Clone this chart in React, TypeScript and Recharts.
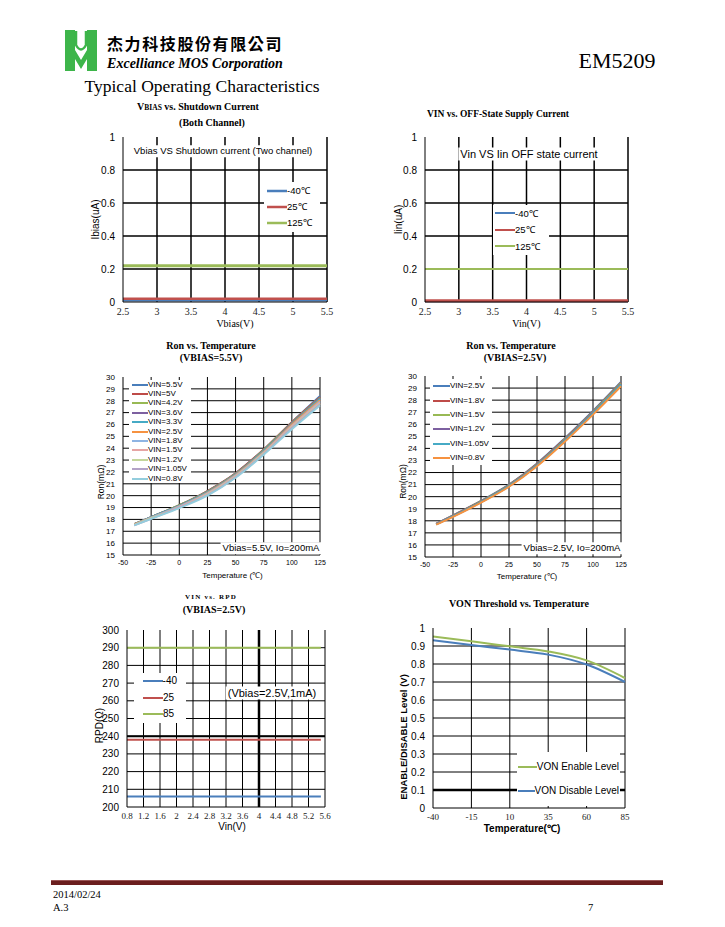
import React from 'react';
import { LineChart, Line, XAxis, YAxis, CartesianGrid, Legend, ReferenceLine } from 'recharts';

const SANS = '"Liberation Sans", Arial, sans-serif';
const SERIF = '"Liberation Serif", "Times New Roman", serif';

// ---------- Chart 1: Vbias vs Shutdown current ----------
const shutdownVbias = [2.5, 3, 3.5, 4, 4.5, 5, 5.5];
const shutdownM40 = [0.01, 0.01, 0.01, 0.01, 0.01, 0.01, 0.01];
const shutdown25 = [0.02, 0.02, 0.02, 0.02, 0.02, 0.02, 0.02];
const shutdown125 = [0.22, 0.22, 0.22, 0.22, 0.22, 0.22, 0.22];
const shutdownXTicks = [2.5, 3, 3.5, 4, 4.5, 5, 5.5];
const currentYTicks = [0, 0.2, 0.4, 0.6, 0.8, 1];

// ---------- Chart 2: Vin vs OFF-state supply current ----------
const offVin = [2.5, 3, 3.5, 4, 4.5, 5, 5.5];
const offM40 = [0.005, 0.005, 0.005, 0.005, 0.005, 0.005, 0.005];
const off25 = [0.008, 0.008, 0.008, 0.008, 0.008, 0.008, 0.008];
const off125 = [0.2, 0.2, 0.2, 0.2, 0.2, 0.2, 0.2];
const offXTicks = [2.5, 3, 3.5, 4, 4.5, 5, 5.5];

// ---------- Chart 3: Ron vs Temperature (VBIAS=5.5V) ----------
const ron55Temps = [-40, -25, 0, 25, 50, 75, 100, 125];
const ron55Names = ['VIN=5.5V', 'VIN=5V', 'VIN=4.2V', 'VIN=3.6V', 'VIN=3.3V', 'VIN=2.5V', 'VIN=1.8V', 'VIN=1.5V', 'VIN=1.2V', 'VIN=1.05V', 'VIN=0.8V'];
const ron55Vin55 = [17.6, 18.2, 19.2, 20.4, 21.9, 23.9, 26.2, 28.4];
const ron55Vin50 = [17.6, 18.2, 19.2, 20.4, 21.9, 23.9, 26.2, 28.3];
const ron55Vin42 = [17.6, 18.2, 19.2, 20.35, 21.85, 23.85, 26.15, 28.25];
const ron55Vin36 = [17.6, 18.2, 19.15, 20.3, 21.8, 23.8, 26.1, 28.2];
const ron55Vin33 = [17.6, 18.2, 19.15, 20.3, 21.8, 23.8, 26.05, 28.15];
const ron55Vin25 = [17.6, 18.15, 19.1, 20.25, 21.75, 23.7, 26.0, 28.05];
const ron55Vin18 = [17.55, 18.15, 19.1, 20.2, 21.7, 23.65, 25.9, 27.95];
const ron55Vin15 = [17.55, 18.1, 19.05, 20.15, 21.65, 23.6, 25.85, 27.85];
const ron55Vin12 = [17.55, 18.1, 19.0, 20.1, 21.6, 23.55, 25.75, 27.75];
const ron55Vin105 = [17.5, 18.05, 19.0, 20.05, 21.55, 23.5, 25.7, 27.7];
const ron55Vin08 = [17.5, 18.05, 18.95, 20.0, 21.5, 23.45, 25.6, 27.6];
const ron55Series = [ron55Vin55, ron55Vin50, ron55Vin42, ron55Vin36, ron55Vin33, ron55Vin25, ron55Vin18, ron55Vin15, ron55Vin12, ron55Vin105, ron55Vin08];
const ron55Colors = ['#4A7EBB', '#BE4B48', '#98B954', '#7D60A0', '#46AAC5', '#F69240', '#8EB4E3', '#E6A5A4', '#C3D69B', '#B3A2C7', '#93CDDD'];

// ---------- Chart 4: Ron vs Temperature (VBIAS=2.5V) ----------
const ron25Temps = [-40, -25, 0, 25, 50, 75, 100, 125];
const ron25Names = ['VIN=2.5V', 'VIN=1.8V', 'VIN=1.5V', 'VIN=1.2V', 'VIN=1.05V', 'VIN=0.8V'];
const ron25Vin25 = [17.75, 18.45, 19.65, 21.0, 22.75, 24.85, 27.1, 29.5];
const ron25Vin18 = [17.75, 18.43, 19.62, 20.97, 22.7, 24.8, 27.05, 29.45];
const ron25Vin15 = [17.73, 18.4, 19.6, 20.94, 22.66, 24.75, 27.0, 29.4];
const ron25Vin12 = [17.72, 18.38, 19.57, 20.9, 22.62, 24.7, 26.95, 29.33];
const ron25Vin105 = [17.7, 18.36, 19.55, 20.87, 22.58, 24.65, 26.9, 29.27];
const ron25Vin08 = [17.68, 18.33, 19.5, 20.82, 22.52, 24.57, 26.8, 29.15];
const ron25Series = [ron25Vin25, ron25Vin18, ron25Vin15, ron25Vin12, ron25Vin105, ron25Vin08];
const ron25Colors = ['#4A7EBB', '#BE4B48', '#98B954', '#7D60A0', '#46AAC5', '#F69240'];

const ronYTicks = [15, 16, 17, 18, 19, 20, 21, 22, 23, 24, 25, 26, 27, 28, 29, 30];
const ronXTicks = [-50, -25, 0, 25, 50, 75, 100, 125];

// ---------- Chart 5: VIN vs RPD ----------
const rpdVin = [0.8, 1.2, 1.6, 2, 2.4, 2.8, 3.2, 3.6, 4, 4.4, 4.8, 5.2, 5.5];
const rpdM40 = [206, 206, 206, 206, 206, 206, 206, 206, 206, 206, 206, 206, 206];
const rpd25 = [238, 238, 238, 238, 238, 238, 238, 238, 238, 238, 238, 238, 238];
const rpd85 = [290, 290, 290, 290, 290, 290, 290, 290, 290, 290, 290, 290, 290];
const rpdXTicks = [0.8, 1.2, 1.6, 2, 2.4, 2.8, 3.2, 3.6, 4, 4.4, 4.8, 5.2, 5.6];
const rpdYTicks = [200, 210, 220, 230, 240, 250, 260, 270, 280, 290, 300];

// ---------- Chart 6: VON threshold vs Temperature ----------
const vonTemps = [-40, -15, 10, 35, 60, 85];
const vonEnable = [0.953, 0.926, 0.898, 0.87, 0.82, 0.722];
const vonDisable = [0.932, 0.905, 0.88, 0.852, 0.797, 0.7];
const vonXTicks = [-40, -15, 10, 35, 60, 85];
const vonYTicks = [0, 0.1, 0.2, 0.3, 0.4, 0.5, 0.6, 0.7, 0.8, 0.9, 1];

// ---------- tables ----------
const key = (k: number) => 's' + String(k).padStart(2, '0');
const shutdownData = shutdownVbias.map((x, i) => ({ x, a: shutdownM40[i], b: shutdown25[i], c: shutdown125[i] }));
const offData = offVin.map((x, i) => ({ x, a: offM40[i], b: off25[i], c: off125[i] }));
const ron55Data = ron55Temps.map((x, i) => {
  const row: any = { x };
  ron55Series.forEach((s, k) => { row[key(k)] = s[i]; });
  return row;
});
const ron25Data = ron25Temps.map((x, i) => {
  const row: any = { x };
  ron25Series.forEach((s, k) => { row[key(k)] = s[i]; });
  return row;
});
const rpdData = rpdVin.map((x, i) => ({ x, a: rpdM40[i], b: rpd25[i], c: rpd85[i] }));
const vonData = vonTemps.map((x, i) => ({ x, a: vonEnable[i], b: vonDisable[i] }));

type LegOpts = { rowH: number; lineLen: number; lineW: number; fontSize: number; padX: number; padY: number; width: number };

const legendContent = (o: LegOpts) => (props: any) => {
  const items = props.payload || [];
  return (
    <div style={{ background: '#fff', padding: `${o.padY}px ${o.padX}px`, width: o.width, boxSizing: 'border-box', fontFamily: SANS, fontSize: o.fontSize, color: '#000', lineHeight: 1 }}>
      {items.map((it: any) => (
        <div key={it.value} style={{ display: 'flex', alignItems: 'center', height: o.rowH, whiteSpace: 'nowrap' }}>
          <svg width={o.lineLen} height={6} style={{ display: 'block' }}>
            <line x1={0} x2={o.lineLen} y1={3} y2={3} stroke={it.color} strokeWidth={o.lineW} />
          </svg>
          <span>{it.value}</span>
        </div>
      ))}
    </div>
  );
};

const Txt = ({ x, y, size, children, family = SERIF, weight = 400, style = {} }: any) => (
  <div style={{ position: 'absolute', left: x, top: y, transform: 'translate(-50%, -50%)', whiteSpace: 'nowrap', fontFamily: family, fontSize: size, fontWeight: weight, color: '#000', lineHeight: 1, ...style }}>
    {children}
  </div>
);

const Note = ({ x, y, size, children }: any) => (
  <div style={{ position: 'absolute', left: x, top: y, transform: 'translate(-50%, -50%)', whiteSpace: 'nowrap', fontFamily: SANS, fontSize: size, color: '#000', background: '#fff', padding: '1px 2px', lineHeight: 1 }}>
    {children}
  </div>
);

const yTick = (size: number) => ({ fill: '#000', fontSize: size, fontFamily: SANS });
const xTickSerif = (size: number) => ({ fill: '#222', fontSize: size, fontFamily: SERIF });
const axisLbl = (value: string, dx: number, dy: number, size: number, family: string, rotate: boolean, weight = 400) => ({
  value,
  position: 'center' as const,
  angle: rotate ? -90 : 0,
  dx,
  dy,
  fontSize: size,
  fontFamily: family,
  fontWeight: weight,
  fill: '#000',
});

export default function App() {
  const margin = { top: 5, right: 12, bottom: 0, left: 0 };
  return (
    <div style={{ position: 'absolute', left: 0, top: 0, width: 725, height: 927, background: '#fff', overflow: 'hidden' }}>
      {/* Header */}
      <svg style={{ position: 'absolute', left: 60, top: 28 }} width={44} height={46}>
        <rect x={5} y={2} width={10} height={41} fill="#3DB54A" />
        <rect x={27} y={2} width={10} height={41} fill="#3DB54A" />
        <path d="M16,3 L16,17 Q21,26 26,17 L26,3" fill="none" stroke="#3DB54A" strokeWidth={2.5} />
        <polygon points="15,22 21,32 27,22 27,31 21,41 15,31" fill="#3DB54A" />
      </svg>
      <Txt x={195} y={43} size={16} family='"Noto Sans CJK TC", sans-serif' weight={700} style={{ letterSpacing: 1.6 }}>杰力科技股份有限公司</Txt>
      <Txt x={195} y={64} size={14} weight={700} style={{ fontStyle: 'italic' }}>Excelliance MOS Corporation</Txt>
      <Txt x={617} y={61} size={22}>EM5209</Txt>
      <Txt x={202} y={87} size={17.5}>Typical Operating Characteristics</Txt>

      {/* Chart titles */}
      <Txt x={198} y={107} size={10} weight={700}>V<span style={{ fontSize: 7.5 }}>BIAS</span> vs. Shutdown Current</Txt>
      <Txt x={212} y={123} size={10} weight={700}>(Both Channel)</Txt>
      <Txt x={498} y={115} size={9.5} weight={700}>VIN vs. OFF-State Supply Current</Txt>
      <Txt x={211} y={346} size={10} weight={700}>Ron vs. Temperature</Txt>
      <Txt x={211} y={358} size={10} weight={700}>(VBIAS=5.5V)</Txt>
      <Txt x={511} y={346} size={10} weight={700}>Ron vs. Temperature</Txt>
      <Txt x={515} y={358} size={10} weight={700}>(VBIAS=2.5V)</Txt>
      <Txt x={211} y={597} size={7} weight={700} style={{ letterSpacing: 1.2 }}>VIN vs. RPD</Txt>
      <Txt x={214} y={610} size={10} weight={700}>(VBIAS=2.5V)</Txt>
      <Txt x={519} y={604} size={10} weight={700}>VON Threshold vs. Temperature</Txt>

      {/* Chart 1 */}
      <div style={{ position: 'absolute', left: 83, top: 132 }}>
        <LineChart width={256} height={202} data={shutdownData} margin={margin}>
          <CartesianGrid stroke="#000" strokeWidth={1.5} horizontalValues={[0.2, 0.4, 0.6, 0.8]} verticalValues={[3, 3.5, 4, 4.5, 5, 5.5]} />
          <XAxis type="number" dataKey="x" domain={[2.5, 5.5]} ticks={shutdownXTicks} interval={0} height={32} tickLine={false} tickSize={4} axisLine={{ stroke: '#000' }} tick={xTickSerif(10)} label={axisLbl('Vbias(V)', 10, 5, 10, SERIF, false)} />
          <YAxis type="number" domain={[0, 1]} ticks={currentYTicks} interval={0} width={40} tickLine={false} axisLine={{ stroke: '#000' }} tick={yTick(10)} label={axisLbl('Ibias(uA)', -8, 0, 10, SANS, true)} />
          <Legend layout="vertical" align="center" verticalAlign="middle" itemSorter="dataKey" wrapperStyle={{ left: 181, top: 50, width: 56, height: 'auto' }} content={legendContent({ rowH: 16, lineLen: 20, lineW: 2.5, fontSize: 9.5, padX: 3, padY: 1, width: 56 })} />
          <Line dataKey="a" name="-40℃" stroke="#4A7EBB" strokeWidth={2.5} dot={false} isAnimationActive={false} />
          <Line dataKey="b" name="25℃" stroke="#C0504D" strokeWidth={2.5} dot={false} isAnimationActive={false} />
          <Line dataKey="c" name="125℃" stroke="#9BBB59" strokeWidth={3} dot={false} isAnimationActive={false} />
        </LineChart>
      </div>
      <Note x={223} y={151} size={9.5}>Vbias VS Shutdown current (Two channel)</Note>

      {/* Chart 2 */}
      <div style={{ position: 'absolute', left: 385, top: 132 }}>
        <LineChart width={255} height={202} data={offData} margin={margin}>
          <CartesianGrid stroke="#000" strokeWidth={1.5} horizontalValues={[0.2, 0.4, 0.6, 0.8]} verticalValues={[3, 3.5, 4, 4.5, 5, 5.5]} />
          <XAxis type="number" dataKey="x" domain={[2.5, 5.5]} ticks={offXTicks} interval={0} height={32} tickLine={false} tickSize={4} axisLine={{ stroke: '#000' }} tick={xTickSerif(10)} label={axisLbl('Vin(V)', 0, 5, 10, SERIF, false)} />
          <YAxis type="number" domain={[0, 1]} ticks={currentYTicks} interval={0} width={40} tickLine={false} axisLine={{ stroke: '#000' }} tick={yTick(10)} label={axisLbl('Iin(uA)', -7, 0, 10, SANS, true)} />
          <Legend layout="vertical" align="center" verticalAlign="middle" itemSorter="dataKey" wrapperStyle={{ left: 108, top: 73, width: 56, height: 'auto' }} content={legendContent({ rowH: 16.5, lineLen: 20, lineW: 2, fontSize: 9.5, padX: 2, padY: 0, width: 56 })} />
          <Line dataKey="a" name="-40℃" stroke="#4A7EBB" strokeWidth={2} dot={false} isAnimationActive={false} />
          <Line dataKey="b" name="25℃" stroke="#C0504D" strokeWidth={3} dot={false} isAnimationActive={false} />
          <Line dataKey="c" name="125℃" stroke="#9BBB59" strokeWidth={2} dot={false} isAnimationActive={false} />
        </LineChart>
      </div>
      <Note x={529} y={154} size={11}>Vin VS Iin OFF state current</Note>

      {/* Chart 3 */}
      <div style={{ position: 'absolute', left: 88, top: 372 }}>
        <LineChart width={244} height={211} data={ron55Data} margin={margin}>
          <CartesianGrid stroke="#000" strokeWidth={1} horizontalValues={ronYTicks.slice(1, -1)} verticalValues={ronXTicks.slice(1)} />
          <XAxis type="number" dataKey="x" domain={[-50, 125]} ticks={ronXTicks} interval={0} height={28} tickLine={false} tickSize={3} axisLine={{ stroke: '#000' }} tick={yTick(7)} label={axisLbl('Temperature (℃)', 11, 6, 8, SANS, false)} />
          <YAxis type="number" domain={[15, 30]} ticks={ronYTicks} interval={0} width={35} tickLine={false} axisLine={{ stroke: '#000' }} tick={yTick(8)} label={axisLbl('Ron(mΩ)', -4.5, 16, 8.5, SANS, true)} />
          <Legend layout="vertical" align="center" verticalAlign="middle" itemSorter="dataKey" wrapperStyle={{ left: 41, top: 8, width: 62, height: 'auto' }} content={legendContent({ rowH: 9.4, lineLen: 16, lineW: 2, fontSize: 8, padX: 3, padY: 0, width: 62 })} />
          {ron55Names.map((n, k) => (
            <Line key={n} type="monotone" dataKey={key(k)} name={n} stroke={ron55Colors[k]} strokeWidth={1.8} dot={false} isAnimationActive={false} />
          ))}
        </LineChart>
      </div>
      <Note x={271} y={548} size={9.5}>Vbias=5.5V, Io=200mA</Note>

      {/* Chart 4 */}
      <div style={{ position: 'absolute', left: 390, top: 371 }}>
        <LineChart width={243} height={214} data={ron25Data} margin={margin}>
          <CartesianGrid stroke="#000" strokeWidth={1} horizontalValues={ronYTicks.slice(1, -1)} verticalValues={ronXTicks.slice(1)} />
          <XAxis type="number" dataKey="x" domain={[-50, 125]} ticks={ronXTicks} interval={0} height={28} tickLine={false} tickSize={3} axisLine={{ stroke: '#000' }} tick={yTick(7)} label={axisLbl('Temperature (℃)', 4, 5, 8, SANS, false)} />
          <YAxis type="number" domain={[15, 30]} ticks={ronYTicks} interval={0} width={35} tickLine={false} axisLine={{ stroke: '#000' }} tick={yTick(8)} label={axisLbl('Ron(mΩ)', -5, 15, 8.5, SANS, true)} />
          <Legend layout="vertical" align="center" verticalAlign="middle" itemSorter="dataKey" wrapperStyle={{ left: 40, top: 8, width: 62, height: 'auto' }} content={legendContent({ rowH: 14.4, lineLen: 17, lineW: 2, fontSize: 8, padX: 3, padY: 0, width: 62 })} />
          {ron25Names.map((n, k) => (
            <Line key={n} type="monotone" dataKey={key(k)} name={n} stroke={ron25Colors[k]} strokeWidth={2} dot={false} isAnimationActive={false} />
          ))}
        </LineChart>
      </div>
      <Note x={572} y={548} size={9.5}>Vbias=2.5V, Io=200mA</Note>

      {/* Chart 5 */}
      <div style={{ position: 'absolute', left: 87, top: 625 }}>
        <LineChart width={250} height={212} data={rpdData} margin={margin}>
          <CartesianGrid stroke="#000" strokeWidth={1} horizontalValues={rpdYTicks.slice(1, -1)} verticalValues={rpdXTicks.slice(1)} />
          <ReferenceLine x={4} stroke="#000" strokeWidth={2.5} />
          <ReferenceLine y={240} stroke="#000" strokeWidth={2} />
          <XAxis type="number" dataKey="x" domain={[0.8, 5.6]} ticks={rpdXTicks} interval={0} height={30} tickLine={false} tickSize={4} axisLine={{ stroke: '#000' }} tick={xTickSerif(9)} label={axisLbl('Vin(V)', 6, 4, 10, SANS, false)} />
          <YAxis type="number" domain={[200, 300]} ticks={rpdYTicks} interval={0} width={40} tickLine={false} axisLine={{ stroke: '#000' }} tick={yTick(10)} label={axisLbl('RPD(Ω)', -8, 7, 10, SANS, true)} />
          <Legend layout="vertical" align="center" verticalAlign="middle" itemSorter="dataKey" wrapperStyle={{ left: 47, top: 48, width: 52, height: 'auto' }} content={legendContent({ rowH: 16.5, lineLen: 20, lineW: 2, fontSize: 10, padX: 9, padY: 0, width: 52 })} />
          <Line dataKey="a" name="-40" stroke="#4A7EBB" strokeWidth={2} dot={false} isAnimationActive={false} />
          <Line dataKey="b" name="25" stroke="#C0504D" strokeWidth={2} dot={false} isAnimationActive={false} />
          <Line dataKey="c" name="85" stroke="#9BBB59" strokeWidth={2} dot={false} isAnimationActive={false} />
        </LineChart>
      </div>
      <Note x={272} y={693} size={11}>(Vbias=2.5V,1mA)</Note>

      {/* Chart 6 */}
      <div style={{ position: 'absolute', left: 388, top: 623 }}>
        <LineChart width={249} height={215} data={vonData} margin={margin}>
          <CartesianGrid stroke="#000" strokeWidth={1} horizontalValues={vonYTicks.slice(1, -1)} verticalValues={vonXTicks.slice(1)} />
          <ReferenceLine y={0.1} stroke="#000" strokeWidth={2.5} />
          <XAxis type="number" dataKey="x" domain={[-40, 85]} ticks={vonXTicks} interval={0} height={30} tickLine={false} tickSize={4} axisLine={{ stroke: '#000' }} tick={xTickSerif(9)} label={axisLbl('Temperature(℃)', -7, 5, 10, SANS, false, 700)} />
          <YAxis type="number" domain={[0, 1]} ticks={vonYTicks} interval={0} width={45} tickLine={false} axisLine={{ stroke: '#000' }} tick={yTick(10)} label={axisLbl('ENABLE/DISABLE Level (V)', -6.5, 19, 9.5, SANS, true, 700)} />
          <Legend layout="vertical" align="center" verticalAlign="middle" itemSorter="dataKey" wrapperStyle={{ left: 129, top: 129, width: 103, height: 'auto' }} content={legendContent({ rowH: 24, lineLen: 22, lineW: 2, fontSize: 10, padX: 1, padY: 3, width: 103 })} />
          <Line type="monotone" dataKey="a" name="VON Enable Level" stroke="#9BBB59" strokeWidth={2} dot={false} isAnimationActive={false} />
          <Line type="monotone" dataKey="b" name="VON Disable Level" stroke="#4A7EBB" strokeWidth={2} dot={false} isAnimationActive={false} />
        </LineChart>
      </div>

      {/* Footer */}
      <div style={{ position: 'absolute', left: 51, top: 880, width: 612, height: 5, background: '#6B1E1E', borderTop: '1px solid #9A5555', boxSizing: 'border-box' }} />
      <div style={{ position: 'absolute', left: 53, top: 890, fontFamily: SERIF, fontSize: 10.5, lineHeight: 1, color: '#000' }}>2014/02/24</div>
      <div style={{ position: 'absolute', left: 53, top: 903, fontFamily: SERIF, fontSize: 10.5, lineHeight: 1, color: '#000' }}>A.3</div>
      <div style={{ position: 'absolute', left: 588, top: 903, fontFamily: SERIF, fontSize: 10.5, lineHeight: 1, color: '#000' }}>7</div>
    </div>
  );
}
